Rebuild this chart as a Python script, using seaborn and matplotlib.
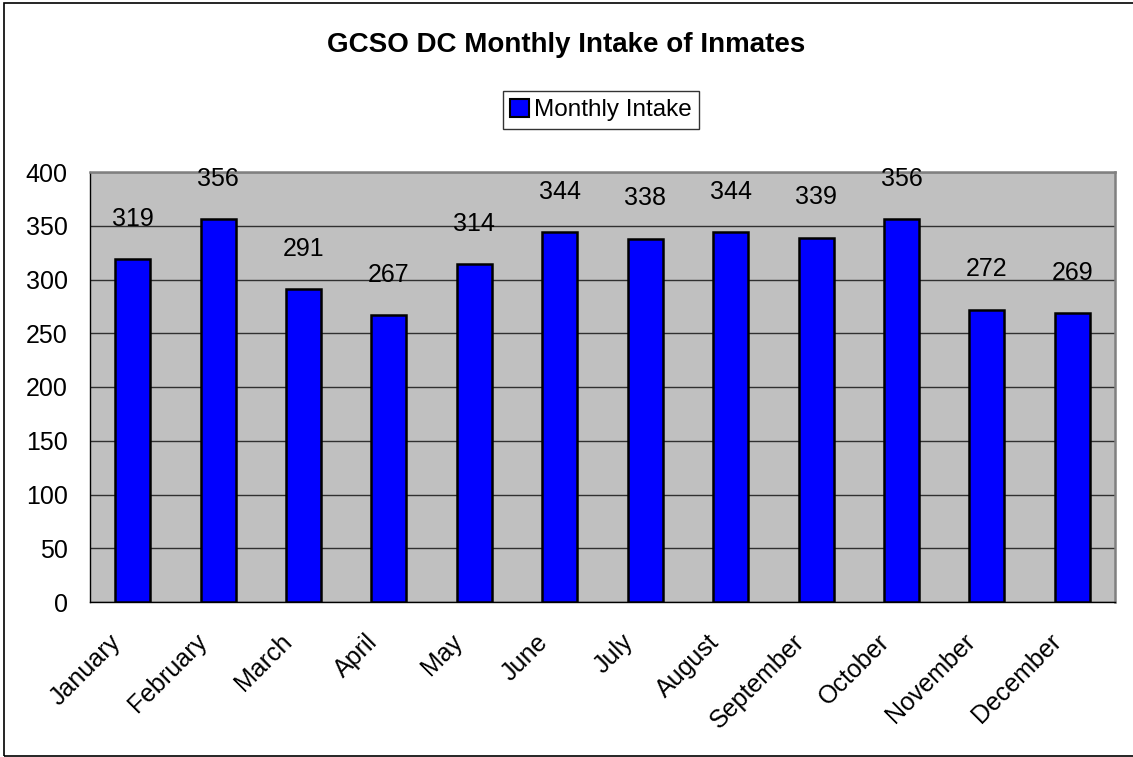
import matplotlib
matplotlib.use("Agg")
import matplotlib.pyplot as plt
import matplotlib.transforms as mtransforms
import seaborn as sns
import pandas as pd
from matplotlib.patches import Rectangle, Patch

# Chart data
months = ['January', 'February', 'March', 'April', 'May', 'June',
          'July', 'August', 'September', 'October', 'November', 'December']
intake = [319, 356, 291, 267, 314, 344, 338, 344, 339, 356, 272, 269]
y_ticks = [0, 50, 100, 150, 200, 250, 300, 350, 400]

title_text = 'GCSO DC Monthly Intake of Inmates'
series_name = 'Monthly Intake'

sns.set_theme(style='white')
plt.rcParams['font.family'] = ['Liberation Sans', 'DejaVu Sans']
plt.rcParams['text.color'] = 'black'
plt.rcParams['xtick.color'] = 'black'
plt.rcParams['ytick.color'] = 'black'

df = pd.DataFrame({'month': months, 'intake': intake})

fig = plt.figure(figsize=(11.33, 7.57), dpi=100)
ax = fig.add_axes([90 / 1133, 155 / 757, 1025 / 1133, 430 / 757])
ax.set_facecolor('#C0C0C0')

sns.barplot(data=df, x='month', y='intake', color='#0000FF', saturation=1,
            edgecolor='black', linewidth=1.8, width=0.41, ax=ax, zorder=3)

# gridlines
ax.set_ylim(0, 400)
ax.set_yticks(y_ticks)
ax.yaxis.grid(True, color='#303030', linewidth=1)
ax.set_axisbelow(True)
ax.set_xlim(-0.5, len(months) - 0.5)

# value labels above the bars
for i, v in enumerate(intake):
    ax.annotate(str(v), xy=(i, v), xytext=(0, 29), textcoords='offset points',
                ha='center', va='center', fontsize=18, color='black',
                annotation_clip=False)

# x ticks sit at category boundaries, labels at the centres
ax.set_xticks(range(len(months)))
ax.set_xticklabels(months, rotation=45, ha='right', va='center',
                   rotation_mode='anchor', fontsize=18)
ax.tick_params(axis='x', which='major', length=0, pad=0)
shift = mtransforms.ScaledTranslation(-11 / 72, -26 / 72, fig.dpi_scale_trans)
for lbl in ax.get_xticklabels():
    lbl.set_transform(lbl.get_transform() + shift)
ax.set_xticks([i - 0.5 for i in range(len(months) + 1)], minor=True)
ax.tick_params(axis='x', which='minor', length=7, width=1, color='black', direction='out')
ax.tick_params(axis='y', which='major', length=7, width=1, color='black',
               direction='out', labelsize=18, pad=9)
ax.set_xlabel('')
ax.set_ylabel('')

for side in ['top', 'right']:
    ax.spines[side].set_color('#808080')
    ax.spines[side].set_linewidth(1.8)
for side in ['left', 'bottom']:
    ax.spines[side].set_color('black')
    ax.spines[side].set_linewidth(1)

fig.text(0.5, 1 - 45 / 757, title_text, ha='center', va='center',
         fontsize=20, fontweight='bold', color='black')

handle = Patch(facecolor='#0000FF', edgecolor='black', linewidth=1.5)
leg = fig.legend([handle], [series_name], loc='center',
                 bbox_to_anchor=(601 / 1133, 1 - 110 / 757), fontsize=17.5,
                 frameon=True, fancybox=False, edgecolor='black',
                 handlelength=0.8, handleheight=0.8, handletextpad=0.2,
                 borderpad=0.3, borderaxespad=0)
leg.get_frame().set_linewidth(1)

# outer chart border
fig.patches.append(Rectangle((4 / 1133, 1 / 757), 1.0, 1 - 3.5 / 757,
                             transform=fig.transFigure, fill=False,
                             edgecolor='black', linewidth=1.2))

fig.savefig('out.png', dpi=100)
